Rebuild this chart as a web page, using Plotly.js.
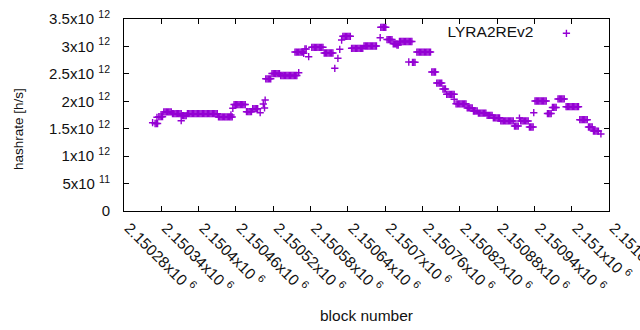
<!DOCTYPE html>
<html>
<head>
<meta charset="utf-8">
<script src="https://cdn.plot.ly/plotly-3.0.1.min.js"></script>
<style>html,body{margin:0;padding:0;background:#fff;}#chart{width:640px;height:330px;}</style>
</head>
<body>
<div id="chart"></div>
<script>
// block numbers (x)
const blockNumber = [
  2150326,
  2150330, 2150332, 2150334,
  2150333,
  2150336, 2150338, 2150340, 2150342,
  2150344, 2150346, 2150348, 2150350, 2150352, 2150354, 2150356,
  2150358, 2150360, 2150362, 2150364, 2150366, 2150368, 2150370, 2150372,
  2150372,
  2150374, 2150376, 2150378, 2150380,
  2150382, 2150384, 2150386, 2150388, 2150390, 2150392, 2150394, 2150396, 2150398, 2150400, 2150402, 2150404, 2150406,
  2150408, 2150410, 2150412, 2150414, 2150416, 2150418, 2150420, 2150422, 2150424, 2150426, 2150428, 2150430,
  2150432, 2150434, 2150436, 2150438, 2150440, 2150442, 2150444, 2150446, 2150448, 2150450, 2150452, 2150454,
  2150452,
  2150455,
  2150457, 2150459, 2150461, 2150463, 2150465, 2150467, 2150469, 2150471, 2150473, 2150475,
  2150477, 2150479, 2150481, 2150483, 2150485,
  2150487, 2150489, 2150491, 2150493, 2150495,
  2150499,
  2150504,
  2150507,
  2150506,
  2150508, 2150510, 2150512, 2150514, 2150516,
  2150518, 2150520, 2150522, 2150524, 2150526, 2150528, 2150530,
  2150532, 2150534, 2150536, 2150538, 2150540, 2150542, 2150544, 2150546, 2150548, 2150550, 2150552, 2150554, 2150556, 2150558,
  2150561,
  2150555, 2150557, 2150559, 2150561, 2150563, 2150565, 2150567,
  2150569,
  2150571, 2150573,
  2150577,
  2150582, 2150584, 2150586, 2150588, 2150590, 2150592, 2150594, 2150596, 2150598, 2150600,
  2150602, 2150604, 2150606, 2150608, 2150610, 2150612, 2150614, 2150616,
  2150619,
  2150624,
  2150627,
  2150630,
  2150632, 2150634, 2150636, 2150638, 2150640, 2150642, 2150644,
  2150646, 2150648, 2150650, 2150652, 2150654, 2150656, 2150658, 2150660, 2150662, 2150664,
  2150666, 2150668, 2150670, 2150672, 2150674, 2150676, 2150678, 2150680, 2150682, 2150684, 2150686,
  2150692,
  2150693, 2150695, 2150697, 2150699, 2150701,
  2150703, 2150705, 2150707, 2150709, 2150711,
  2150713, 2150715, 2150717, 2150719,
  2150719, 2150721,
  2150723, 2150725, 2150727, 2150729, 2150731, 2150733, 2150735, 2150737, 2150739, 2150741, 2150743,
  2150738,
  2150744, 2150746, 2150748,
  2150751, 2150753, 2150755, 2150757, 2150759, 2150761, 2150763, 2150765, 2150767, 2150769, 2150771, 2150773,
  2150775, 2150777, 2150779, 2150781,
  2150783, 2150785, 2150787, 2150789, 2150791,
  2150793, 2150795, 2150797,
  2150799, 2150801, 2150803, 2150805, 2150807, 2150809, 2150811,
  2150811,
  2150814, 2150816, 2150818, 2150820, 2150822, 2150824, 2150826, 2150828, 2150830,
  2150832, 2150834, 2150836, 2150838, 2150840,
  2150842, 2150844, 2150846, 2150848,
  2150850, 2150852, 2150854, 2150856, 2150858, 2150860, 2150862,
  2150864, 2150866, 2150868, 2150870, 2150872,
  2150874, 2150876, 2150878, 2150880, 2150882, 2150884,
  2150886, 2150888, 2150890, 2150892, 2150894, 2150896, 2150898, 2150900, 2150902, 2150904, 2150906,
  2150908, 2150910, 2150912, 2150914,
  2150916,
  2150918, 2150920, 2150922, 2150924, 2150926, 2150928, 2150930,
  2150932, 2150934, 2150936, 2150938,
  2150939,
  2150941, 2150943, 2150945, 2150947, 2150949, 2150951, 2150953, 2150955, 2150957, 2150959,
  2150961, 2150963, 2150965, 2150967,
  2150969, 2150971, 2150973, 2150975,
  2150978, 2150980, 2150982, 2150984, 2150986, 2150988,
  2150991, 2150993, 2150995, 2150997, 2150999, 2151001, 2151003, 2151005, 2151007, 2151009, 2151011,
  2151013, 2151015, 2151017, 2151019, 2151021, 2151023, 2151025,
  2151027, 2151029, 2151031, 2151033,
  2151035, 2151037, 2151039, 2151041, 2151043,
  2151047
];
// hashrate [h/s] (y), one value per block number above
const hashrate = [
  1.610e12,
  1.595e12, 1.595e12, 1.595e12,
  1.708e12,
  1.719e12, 1.719e12, 1.719e12, 1.719e12,
  1.805e12, 1.805e12, 1.805e12, 1.805e12, 1.805e12, 1.805e12, 1.805e12,
  1.774e12, 1.774e12, 1.774e12, 1.774e12, 1.774e12, 1.774e12, 1.774e12, 1.774e12,
  1.646e12,
  1.737e12, 1.737e12, 1.737e12, 1.737e12,
  1.774e12, 1.774e12, 1.774e12, 1.774e12, 1.774e12, 1.774e12, 1.774e12, 1.774e12, 1.774e12, 1.774e12, 1.774e12, 1.774e12, 1.774e12,
  1.774e12, 1.774e12, 1.774e12, 1.774e12, 1.774e12, 1.774e12, 1.774e12, 1.774e12, 1.774e12, 1.774e12, 1.774e12, 1.774e12,
  1.714e12, 1.714e12, 1.714e12, 1.714e12, 1.714e12, 1.714e12, 1.714e12, 1.714e12, 1.714e12, 1.714e12, 1.714e12, 1.714e12,
  1.750e12,
  1.872e12,
  1.941e12, 1.941e12, 1.941e12, 1.941e12, 1.941e12, 1.941e12, 1.941e12, 1.941e12, 1.941e12, 1.941e12,
  1.810e12, 1.810e12, 1.810e12, 1.810e12, 1.810e12,
  1.865e12, 1.865e12, 1.865e12, 1.865e12, 1.865e12,
  1.792e12,
  1.951e12,
  2.023e12,
  1.878e12,
  2.410e12, 2.410e12, 2.410e12, 2.410e12, 2.410e12,
  2.506e12, 2.506e12, 2.506e12, 2.506e12, 2.506e12, 2.506e12, 2.506e12,
  2.470e12, 2.470e12, 2.470e12, 2.470e12, 2.470e12, 2.470e12, 2.470e12, 2.470e12, 2.470e12, 2.470e12, 2.470e12, 2.470e12, 2.470e12, 2.470e12,
  2.521e12,
  2.898e12, 2.898e12, 2.898e12, 2.898e12, 2.898e12, 2.898e12, 2.898e12,
  2.875e12,
  2.953e12, 2.953e12,
  2.813e12,
  2.984e12, 2.984e12, 2.984e12, 2.984e12, 2.984e12, 2.984e12, 2.984e12, 2.984e12, 2.984e12, 2.984e12,
  2.880e12, 2.880e12, 2.880e12, 2.880e12, 2.880e12, 2.880e12, 2.880e12, 2.880e12,
  2.601e12,
  2.784e12,
  2.948e12,
  3.117e12,
  3.185e12, 3.185e12, 3.185e12, 3.185e12, 3.185e12, 3.185e12, 3.185e12,
  2.966e12, 2.966e12, 2.966e12, 2.966e12, 2.966e12, 2.966e12, 2.966e12, 2.966e12, 2.966e12, 2.966e12,
  3.008e12, 3.008e12, 3.008e12, 3.008e12, 3.008e12, 3.008e12, 3.008e12, 3.008e12, 3.008e12, 3.008e12, 3.008e12,
  3.159e12,
  3.349e12, 3.349e12, 3.349e12, 3.349e12, 3.349e12,
  3.126e12, 3.126e12, 3.126e12, 3.126e12, 3.126e12,
  3.048e12, 3.048e12, 3.048e12, 3.048e12,
  3.026e12, 3.026e12,
  3.090e12, 3.090e12, 3.090e12, 3.090e12, 3.090e12, 3.090e12, 3.090e12, 3.090e12, 3.090e12, 3.090e12, 3.090e12,
  2.716e12,
  2.711e12, 2.711e12, 2.711e12,
  2.898e12, 2.898e12, 2.898e12, 2.898e12, 2.898e12, 2.898e12, 2.898e12, 2.898e12, 2.898e12, 2.898e12, 2.898e12, 2.898e12,
  2.534e12, 2.534e12, 2.534e12, 2.534e12,
  2.333e12, 2.333e12, 2.333e12, 2.333e12, 2.333e12,
  2.224e12, 2.224e12, 2.224e12,
  2.127e12, 2.127e12, 2.127e12, 2.127e12, 2.127e12, 2.127e12, 2.127e12,
  2.036e12,
  1.954e12, 1.954e12, 1.954e12, 1.954e12, 1.954e12, 1.954e12, 1.954e12, 1.954e12, 1.954e12,
  1.878e12, 1.878e12, 1.878e12, 1.878e12, 1.878e12,
  1.823e12, 1.823e12, 1.823e12, 1.823e12,
  1.786e12, 1.786e12, 1.786e12, 1.786e12, 1.786e12, 1.786e12, 1.786e12,
  1.745e12, 1.745e12, 1.745e12, 1.745e12, 1.745e12,
  1.699e12, 1.699e12, 1.699e12, 1.699e12, 1.699e12, 1.699e12,
  1.641e12, 1.641e12, 1.641e12, 1.641e12, 1.641e12, 1.641e12, 1.641e12, 1.641e12, 1.641e12, 1.641e12, 1.641e12,
  1.549e12, 1.549e12, 1.549e12, 1.549e12,
  1.695e12,
  1.641e12, 1.641e12, 1.641e12, 1.641e12, 1.641e12, 1.641e12, 1.641e12,
  1.531e12, 1.531e12, 1.531e12, 1.531e12,
  1.792e12,
  2.005e12, 2.005e12, 2.005e12, 2.005e12, 2.005e12, 2.005e12, 2.005e12, 2.005e12, 2.005e12, 2.005e12,
  1.777e12, 1.777e12, 1.777e12, 1.777e12,
  1.887e12, 1.887e12, 1.887e12, 1.887e12,
  2.042e12, 2.042e12, 2.042e12, 2.042e12, 2.042e12, 2.042e12,
  1.901e12, 1.901e12, 1.901e12, 1.901e12, 1.901e12, 1.901e12, 1.901e12, 1.901e12, 1.901e12, 1.901e12, 1.901e12,
  1.664e12, 1.664e12, 1.664e12, 1.664e12, 1.664e12, 1.664e12, 1.664e12,
  1.531e12, 1.531e12, 1.531e12, 1.531e12,
  1.458e12, 1.458e12, 1.458e12, 1.458e12, 1.458e12,
  1.404e12
];

const seriesName = 'LYRA2REv2';

const xTickValues = [2150280, 2150340, 2150400, 2150460, 2150520, 2150580, 2150640,
                     2150700, 2150760, 2150820, 2150880, 2150940, 2151000, 2151060];
const xTickLabels = ['2.15028x10 <sup>6</sup>', '2.15034x10 <sup>6</sup>', '2.1504x10 <sup>6</sup>',
                     '2.15046x10 <sup>6</sup>', '2.15052x10 <sup>6</sup>', '2.15058x10 <sup>6</sup>',
                     '2.15064x10 <sup>6</sup>', '2.1507x10 <sup>6</sup>', '2.15076x10 <sup>6</sup>',
                     '2.15082x10 <sup>6</sup>', '2.15088x10 <sup>6</sup>', '2.15094x10 <sup>6</sup>',
                     '2.151x10 <sup>6</sup>', '2.15106x10 <sup>6</sup>'];

const yTickValues = [0, 0.5e12, 1e12, 1.5e12, 2e12, 2.5e12, 3e12, 3.5e12];
const yTickLabels = ['0', '5x10 <sup>11</sup>', '1x10 <sup>12</sup>', '1.5x10 <sup>12</sup>',
                     '2x10 <sup>12</sup>', '2.5x10 <sup>12</sup>', '3x10 <sup>12</sup>', '3.5x10 <sup>12</sup>'];

const xTitle = 'block number';
const yTitle = 'hashrate [h/s]';

const violet = '#9400d3';
const ink = '#111';
const fam = 'Liberation Sans, Arial, sans-serif';

const trace = {
  type: 'scatter',
  mode: 'markers',
  x: blockNumber,
  y: hashrate,
  name: ' ',
  showlegend: true,
  marker: {symbol: 'cross-thin', size: 5.2, color: violet, line: {color: violet, width: 1.4}},
  hoverinfo: 'x+y'
};

const layout = {
  width: 640, height: 330,
  margin: {l: 124, r: 31, t: 19, b: 119, pad: 0},
  paper_bgcolor: '#fff', plot_bgcolor: '#fff',
  font: {family: fam, size: 15, color: ink},
  showlegend: true,
  legend: {
    x: 0.663, y: 1.012, xanchor: 'left', yanchor: 'top',
    itemwidth: 40,
    bgcolor: 'rgba(0,0,0,0)', borderwidth: 0,
    title: {text: seriesName, side: 'left', font: {family: fam, size: 15.5, color: ink}},
    font: {family: fam, size: 15.5, color: ink}
  },
  xaxis: {
    range: [2150280, 2151060],
    tickmode: 'array', tickvals: xTickValues, ticktext: xTickLabels,
    tickangle: 45,
    ticklabelshift: 5, ticklabelstandoff: 1,
    ticklabeloverflow: 'allow',
    ticks: 'inside', ticklen: 5, tickcolor: '#000', tickwidth: 1,
    showline: true, linecolor: '#000', linewidth: 1, mirror: 'ticks',
    showgrid: false, zeroline: false,
    tickfont: {family: fam, size: 15.5, color: ink},
    title: {text: xTitle, standoff: 15, font: {family: fam, size: 15.5, color: ink}}
  },
  yaxis: {
    range: [0, 3.5e12],
    tickmode: 'array', tickvals: yTickValues, ticktext: yTickLabels,
    ticklabelstandoff: 10,
    ticks: 'inside', ticklen: 5, tickcolor: '#000', tickwidth: 1,
    showline: true, linecolor: '#000', linewidth: 1, mirror: 'ticks',
    showgrid: false, zeroline: false,
    tickfont: {family: fam, size: 15, color: ink},
    title: {text: ''}
  },
  annotations: [{
    xref: 'paper', yref: 'paper',
    x: -0.2186, y: 0.427,
    xanchor: 'center', yanchor: 'middle',
    textangle: -90, showarrow: false,
    text: yTitle,
    font: {family: fam, size: 13.5, color: ink}
  }]
};

Plotly.newPlot('chart', [trace], layout, {displayModeBar: false, staticPlot: true});
</script>
</body>
</html>
